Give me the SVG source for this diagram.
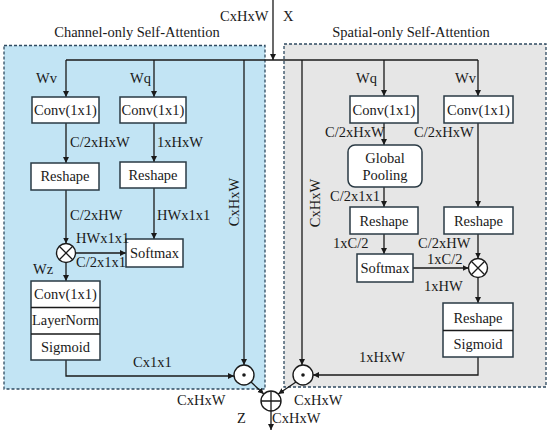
<svg xmlns="http://www.w3.org/2000/svg" width="550" height="432" viewBox="0 0 550 432" font-family="'Liberation Serif', 'Times New Roman', 'DejaVu Serif', serif" font-size="14.5">
<defs>
<marker id="ah" markerWidth="7" markerHeight="7" refX="6" refY="3" orient="auto" markerUnits="userSpaceOnUse">
<path d="M0,0 L6,3 L0,6 Z" fill="#1a1a1a"/>
</marker>
<style>
text{font-family:'Liberation Serif','Times New Roman','DejaVu Serif',serif;font-size:14.5px;fill:#1a1a1a}
.c{text-anchor:middle}
.box{fill:#ffffff;stroke:#2a3a44;stroke-width:1.5}
.ln{fill:none;stroke:#1a1a1a;stroke-width:1.3}
.ar{fill:none;stroke:#1a1a1a;stroke-width:1.3;marker-end:url(#ah)}
.op{fill:#ffffff;stroke:#1a1a1a;stroke-width:1.4}
</style>
</defs>
<rect width="550" height="432" fill="#ffffff"/>
<g id="panel-channel">
<rect x="4" y="45.5" width="261" height="343.5" fill="#c2e4f4" stroke="#2f4a60" stroke-width="1.3" stroke-dasharray="3,2"/>
<text class="c" x="137" y="37">Channel-only Self-Attention</text>
</g>
<g id="panel-spatial">
<rect x="284" y="44" width="262" height="343" fill="#e6e6e6" stroke="#2f4a60" stroke-width="1.3" stroke-dasharray="3,2"/>
<text class="c" x="411" y="37">Spatial-only Self-Attention</text>
</g>
<g id="input-labels">
<text x="220" y="21">CxHxW</text>
<text x="283" y="21">X</text>
</g>
<g id="connectors">
<path class="ar" d="M273,0 V60"/>
<path class="ln" d="M66,60 H478"/>
<path class="ar" d="M66,60 V97"/>
<path class="ar" d="M154,60 V97"/>
<path class="ar" d="M244,60 V365"/>
<path class="ar" d="M66,123 V163"/>
<path class="ar" d="M154,123 V162"/>
<path class="ar" d="M66,190 V243.5"/>
<path class="ar" d="M154,188 V239"/>
<path class="ar" d="M75.5,253 H126"/>
<path class="ar" d="M66,262.5 V281"/>
<path class="ar" d="M66,360 V376 H234"/>
<path class="ar" d="M251,382 L263.8,394"/>
<path class="ar" d="M296,382 L278.2,394"/>
<path class="ar" d="M271,411 V430"/>
<path class="ar" d="M302,60 V365"/>
<path class="ar" d="M384,60 V96"/>
<path class="ar" d="M478,60 V96"/>
<path class="ar" d="M384,123 V145"/>
<path class="ar" d="M384,187 V207"/>
<path class="ar" d="M384,234 V254"/>
<path class="ar" d="M478,123 V207"/>
<path class="ar" d="M478,234 V258.5"/>
<path class="ar" d="M478,277.5 V303"/>
<path class="ar" d="M413,268 H468.5"/>
<path class="ar" d="M478,357 V375 H313"/>
</g>
<g id="conv-v">
<rect class="box" x="32" y="97" width="67" height="26"/>
<text class="c" x="65.5" y="115">Conv(1x1)</text>
</g>
<g id="conv-q">
<rect class="box" x="120" y="97" width="66" height="26"/>
<text class="c" x="153" y="115">Conv(1x1)</text>
</g>
<g id="reshape-v">
<rect class="box" x="31" y="163" width="68" height="27"/>
<text class="c" x="65" y="181">Reshape</text>
</g>
<g id="reshape-q">
<rect class="box" x="120" y="162" width="66" height="26"/>
<text class="c" x="153" y="180">Reshape</text>
</g>
<g id="softmax-c">
<rect class="box" x="126" y="239" width="57" height="28"/>
<text class="c" x="154.5" y="258">Softmax</text>
</g>
<g id="matmul-c">
<circle class="op" cx="66" cy="253" r="9.5"/>
<path class="ln" d="M59.3,246.3 L72.7,259.7 M72.7,246.3 L59.3,259.7"/>
</g>
<g id="stack-c">
<rect class="box" x="31" y="281" width="69" height="79"/>
<path class="ln" d="M31,307.5 H100 M31,334 H100" stroke="#2a3a44"/>
<text class="c" x="65.5" y="299">Conv(1x1)</text>
<text class="c" x="65.5" y="325" textLength="67" lengthAdjust="spacingAndGlyphs">LayerNorm</text>
<text class="c" x="65.5" y="352">Sigmoid</text>
</g>
<g id="dot-c">
<circle class="op" cx="244" cy="375" r="10"/>
<circle cx="244" cy="375" r="1.8" fill="#1a1a1a"/>
</g>
<g id="conv-q2">
<rect class="box" x="350" y="96" width="68" height="27"/>
<text class="c" x="384" y="115">Conv(1x1)</text>
</g>
<g id="conv-v2">
<rect class="box" x="444" y="96" width="69" height="27"/>
<text class="c" x="478.5" y="115">Conv(1x1)</text>
</g>
<g id="global-pooling">
<rect class="box" x="348" y="145" width="74" height="42" rx="7"/>
<text class="c" x="385" y="163">Global</text>
<text class="c" x="385" y="180">Pooling</text>
</g>
<g id="reshape-q2">
<rect class="box" x="350" y="207" width="68" height="27"/>
<text class="c" x="384" y="226">Reshape</text>
</g>
<g id="reshape-v2">
<rect class="box" x="444" y="207" width="69" height="27"/>
<text class="c" x="478.5" y="226">Reshape</text>
</g>
<g id="softmax-s">
<rect class="box" x="357" y="254" width="56" height="28"/>
<text class="c" x="385" y="273">Softmax</text>
</g>
<g id="matmul-s">
<circle class="op" cx="478" cy="268" r="9.5"/>
<path class="ln" d="M471.3,261.3 L484.7,274.7 M484.7,261.3 L471.3,274.7"/>
</g>
<g id="stack-s">
<rect class="box" x="443" y="303" width="70" height="54"/>
<path class="ln" d="M443,330.5 H513" stroke="#2a3a44"/>
<text class="c" x="478" y="323">Reshape</text>
<text class="c" x="478" y="349">Sigmoid</text>
</g>
<g id="dot-s">
<circle class="op" cx="303" cy="375" r="10"/>
<circle cx="303" cy="375" r="1.8" fill="#1a1a1a"/>
</g>
<g id="sum">
<circle class="op" cx="271" cy="401" r="10"/>
<path class="ln" d="M261,401 H281 M271,391 V411"/>
</g>
<g id="labels">
<text x="36" y="83">Wv</text>
<text x="130" y="83">Wq</text>
<text x="70" y="147">C/2xHxW</text>
<text x="157" y="147">1xHxW</text>
<text x="70" y="220">C/2xHW</text>
<text x="157" y="220">HWx1x1</text>
<text x="76" y="243">HWx1x1</text>
<text x="76" y="267">C/2x1x1</text>
<text x="33" y="274">Wz</text>
<text x="133" y="367">Cx1x1</text>
<text class="c" transform="translate(239,202) rotate(-90)">CxHxW</text>
<text x="177" y="405">CxHxW</text>
<text x="294" y="405">CxHxW</text>
<text x="272" y="423">CxHxW</text>
<text x="237" y="423">Z</text>
<text x="356" y="83">Wq</text>
<text x="455" y="83">Wv</text>
<text x="325" y="137">C/2xHxW</text>
<text x="414" y="137">C/2xHxW</text>
<text x="330" y="201">C/2x1x1</text>
<text x="333" y="248">1xC/2</text>
<text x="418" y="248">C/2xHW</text>
<text x="427" y="264">1xC/2</text>
<text x="424" y="291">1xHW</text>
<text x="359" y="362">1xHxW</text>
<text class="c" transform="translate(320,203) rotate(-90)">CxHxW</text>
</g>
</svg>
